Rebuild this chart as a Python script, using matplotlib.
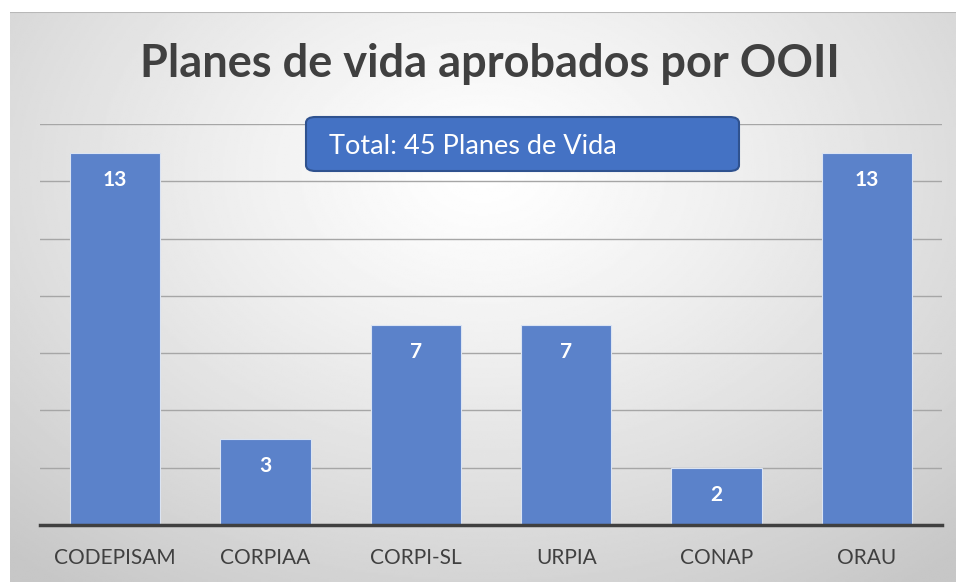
import numpy as np
import matplotlib.pyplot as plt
from matplotlib.patches import FancyBboxPatch

categories = ['CODEPISAM', 'CORPIAA', 'CORPI-SL', 'URPIA', 'CONAP', 'ORAU']
values = [13, 3, 7, 7, 2, 13]
title = 'Planes de vida aprobados por OOII'
total_text = 'Total: 45 Planes de Vida'

plt.rcParams['font.family'] = ['Lato', 'DejaVu Sans']

W, H = 956, 582
fig = plt.figure(figsize=(W / 100, H / 100), dpi=100)

# radial gradient background
bg = fig.add_axes([10 / W, 0, 1 - 10 / W, 1 - 12 / H], zorder=0)
yy, xx = np.mgrid[0:1:300j, 0:1:500j]
r = np.sqrt(((xx - 0.5) / 0.75) ** 2 + ((yy - 0.72) / 0.9) ** 2)
shade = 1.0 - 0.22 * np.clip(r, 0, 1) ** 1.2
bg.imshow(shade, cmap='gray', vmin=0, vmax=1, aspect='auto', origin='lower',
          extent=[0, 1, 0, 1])
bg.plot([0, 1], [1, 1], color='#b8b8b8', lw=1.5)
bg.axis('off')

ax = fig.add_axes([40 / W, (H - 525) / H, 902 / W, (525 - 124) / H], zorder=1)
ax.patch.set_alpha(0)
x = np.arange(len(categories))
ax.bar(x, values, width=0.6, color='#5B82CA', edgecolor='#dbe4f3', linewidth=0.8, zorder=3)
ax.set_xlim(-0.5, len(categories) - 0.5)
ax.set_ylim(0, 14)
ax.set_yticks(range(0, 15, 2))
ax.yaxis.grid(True, color='#a6a6a6', lw=1)
ax.set_axisbelow(True)
ax.tick_params(axis='y', left=False, labelleft=False)
ax.tick_params(axis='x', bottom=False, labelsize=15, labelcolor='#404040', pad=13)
ax.set_xticks(x, categories)
for s in ['top', 'right', 'left']:
    ax.spines[s].set_visible(False)
ax.spines['bottom'].set_color('#404040')
ax.spines['bottom'].set_linewidth(2.5)
ax.spines['bottom'].set_zorder(4)

for xi, v in zip(x, values):
    ax.text(xi, v - 0.95, str(v), ha='center', va='center', color='white',
            fontsize=15, fontweight='bold', zorder=5)

fig.text(490 / W, 1 - 64 / H, title, ha='center', va='center', fontsize=32.5,
         fontweight='bold', color='#404040')

box = FancyBboxPatch((306 / W, 1 - 171 / H), (739 - 306) / W, (171 - 117) / H,
                     boxstyle='round,pad=0,rounding_size=0.01', transform=fig.transFigure,
                     facecolor='#4472C4', edgecolor='#2F528F', lw=1.5, zorder=6)
fig.add_artist(box)
fig.text(329 / W, 1 - 147 / H, total_text, ha='left', va='center', fontsize=19.5,
         color='white', zorder=7)

fig.savefig('out.png', dpi=100)
